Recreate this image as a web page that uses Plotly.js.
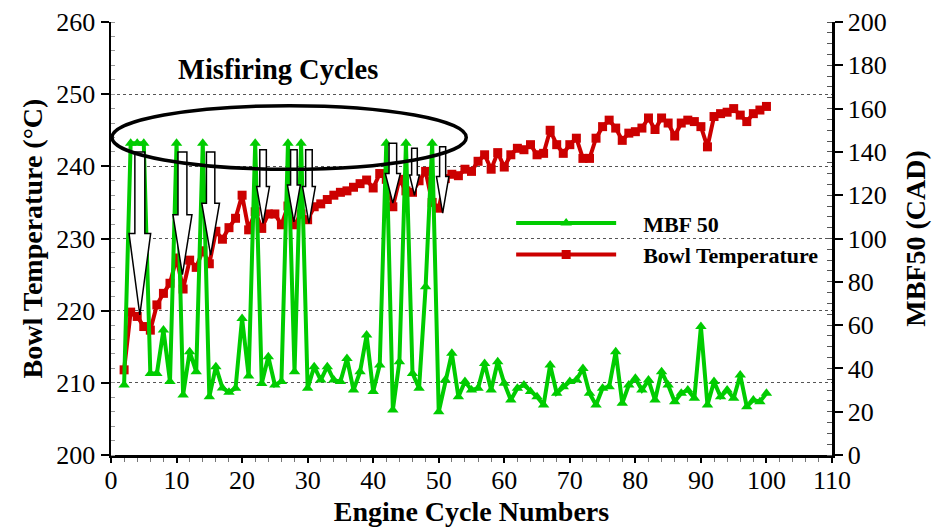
<!DOCTYPE html>
<html>
<head>
<meta charset="utf-8">
<script src="https://cdn.plot.ly/plotly-3.0.1.min.js"></script>
<style>html,body{margin:0;padding:0;background:#fff;}#chart{width:937px;height:529px;}</style>
</head>
<body>
<div id="chart"></div>
<script>
// Engine cycle numbers
const cycles = [2,3,4,5,6,7,8,9,10,11,12,13,14,15,16,17,18,19,20,21,22,23,24,25,26,27,28,29,30,31,32,33,34,35,36,37,38,39,40,41,42,43,44,45,46,47,48,49,50,51,52,53,54,55,56,57,58,59,60,61,62,63,64,65,66,67,68,69,70,71,72,73,74,75,76,77,78,79,80,81,82,83,84,85,86,87,88,89,90,91,92,93,94,95,96,97,98,99,100];
// Bowl temperature (°C), left axis
const bowlTemp = [211.8,219.8,219.2,217.8,217.3,220.8,222.4,223.8,227.3,223.0,227.0,226.0,228.3,226.5,231.0,229.9,231.5,232.8,236.0,231.2,233.7,231.4,233.4,233.4,231.9,234.5,231.9,233.4,232.6,234.4,234.8,235.4,236.0,236.4,236.6,237.1,237.6,238.1,237.0,239.0,238.2,234.4,238.2,236.6,236.4,238.0,239.3,235.0,234.2,238.3,238.9,238.7,239.6,239.3,240.7,241.6,239.6,241.9,239.9,241.6,242.5,242.3,243.0,241.6,241.8,245.0,243.0,241.8,243.0,243.9,241.1,241.1,243.9,245.5,246.4,245.3,243.6,244.6,244.8,245.3,246.7,245.1,246.7,246.0,244.2,246.0,246.4,246.2,245.5,242.7,246.9,247.3,247.5,248.0,247.1,246.2,247.3,247.8,248.3];
// MBF 50 (CAD), right axis
const mbf50 = [32.3,144,144,144,37.7,37.7,57.7,33.9,144,27.7,47.7,38.5,144,26.9,40.8,31.0,29.0,30.8,63.1,36.5,144,33.0,45.4,32.3,33.9,144,38.5,144,30.8,40.8,34.6,40.8,34.6,33.9,44.6,30.0,38.5,55.4,29.3,41.6,144,20.8,43.1,144,37.7,30.8,77.7,144,20.0,34.6,47.0,26.9,33.9,30.0,30.8,42.3,30.0,43.1,33.1,25.4,30.8,32.3,29.3,26.9,23.1,41.6,28.5,31.5,33.9,34.6,40.0,28.5,23.1,30.8,31.5,47.7,23.9,32.3,35.4,30.0,34.6,25.4,38.5,32.3,24.6,28.5,30.0,26.2,59.3,23.1,33.9,26.9,30.0,26.2,36.9,22.3,25.4,24.6,28.5];
const seriesNames = ["MBF 50", "Bowl Temperature"];
const xTicks = [0,10,20,30,40,50,60,70,80,90,100,110];
const leftTicks = [200,210,220,230,240,250,260];
const rightTicks = [0,20,40,60,80,100,120,140,160,180,200];
// Misfire arrows: [cycle, top, headBase, tip, shaftHalf, headHalf]
const arrows = [
  [4.4,242.0,230.7,219.4,0.76,1.65],
  [10.9,242.0,233.3,225.0,0.68,1.45],
  [15.2,242.0,234.9,227.7,0.64,1.35],
  [23.2,242.3,237.2,232.1,0.50,0.98],
  [27.9,242.3,237.4,232.3,0.50,0.98],
  [30.2,242.3,237.2,232.1,0.50,0.98],
  [43.0,243.2,239.0,234.9,0.58,1.15],
  [46.3,242.5,238.8,236.0,0.43,0.75],
  [50.6,242.7,238.6,233.5,0.46,0.95]
];

const FONT = 'Liberation Serif, Times New Roman, serif';
const GREEN = '#00cc00', RED = '#cc0000';
const PAD = '\u00a0\u00a0\u00a0\u00a0';

const traces = [
  {x: cycles, y: bowlTemp, name: PAD + seriesNames[1], type: 'scatter', mode: 'lines+markers',
   line: {color: RED, width: 4}, marker: {symbol: 'square', size: 9, color: RED},
   yaxis: 'y', legendrank: 2},
  {x: cycles, y: mbf50, name: PAD + seriesNames[0], type: 'scatter', mode: 'lines+markers',
   line: {color: GREEN, width: 4}, marker: {symbol: 'triangle-up', size: 10, color: GREEN},
   yaxis: 'y2', legendrank: 1}
];

const shapes = arrows.map(a => {
  const [xc, yt, yh, ytip, sw, hw] = a;
  return {type: 'path', xref: 'x', yref: 'y', layer: 'above',
    path: `M${xc-sw},${yt} L${xc+sw},${yt} L${xc+sw},${yh} L${xc+hw},${yh} L${xc},${ytip} L${xc-hw},${yh} L${xc-sw},${yh} Z`,
    fillcolor: 'white', line: {color: 'black', width: 1.5}};
});
shapes.push({type: 'circle', xref: 'x', yref: 'y', layer: 'above',
  x0: 0.15, x1: 54.2, y0: 239.6, y1: 248.4, line: {color: 'black', width: 3.5}});

const layout = {
  width: 937, height: 529,
  margin: {l: 111, r: 105, t: 22, b: 74},
  paper_bgcolor: '#fff', plot_bgcolor: '#fff',
  font: {family: FONT, color: '#000', size: 26},
  showlegend: true,
  legend: {x: 0.555, y: 0.584, xanchor: 'left', yanchor: 'top', bgcolor: 'rgba(0,0,0,0)',
    font: {family: FONT, size: 22, weight: 'bold', color: '#000'}, itemwidth: 100, tracegroupgap: 0},
  xaxis: {range: [0, 110], tickvals: xTicks, ticktext: xTicks.map(String),
    showline: true, linecolor: '#000', linewidth: 2.5, ticks: 'outside', ticklen: 5, tickwidth: 2, tickcolor: '#000',
    ticklabelstandoff: -5,
    showgrid: false, zeroline: false,
    minor: {dtick: 2, ticks: 'outside', ticklen: 4, tickcolor: '#777', tickwidth: 1},
    tickfont: {family: FONT, size: 26},
    title: {text: 'Engine Cycle Numbers', font: {family: FONT, size: 28, weight: 'bold'}, standoff: 8}},
  yaxis: {range: [200, 260], tickvals: leftTicks, ticktext: leftTicks.map(String),
    showline: true, linecolor: '#000', linewidth: 2.5, ticks: 'outside', ticklen: 8, tickwidth: 2, tickcolor: '#000',
    showgrid: true, gridcolor: '#555', griddash: 'dot', gridwidth: 1, zeroline: false,
    minor: {dtick: 2, ticks: 'inside', ticklen: 4, tickcolor: '#999', tickwidth: 1, showgrid: false},
    tickfont: {family: FONT, size: 26},
    title: {text: 'Bowl Temperature (°C)', font: {family: FONT, size: 28, weight: 'bold'}, standoff: 6}},
  yaxis2: {range: [0, 200], overlaying: 'y', side: 'right', tickvals: rightTicks, ticktext: rightTicks.map(String),
    showline: true, linecolor: '#000', linewidth: 2.5, ticks: 'outside', ticklen: 8, tickwidth: 2, tickcolor: '#000',
    showgrid: false, zeroline: false,
    minor: {dtick: 5, ticks: 'inside', ticklen: 5, tickcolor: '#555', tickwidth: 1},
    tickfont: {family: FONT, size: 26},
    title: {text: 'MBF50 (CAD)', font: {family: FONT, size: 28, weight: 'bold'}, standoff: 20}},
  shapes: shapes,
  annotations: [{text: 'Misfiring Cycles', xref: 'paper', yref: 'paper', x: 0.2316, y: 0.89,
    xanchor: 'center', yanchor: 'middle',
    showarrow: false, font: {family: FONT, size: 28.5, weight: 'bold', color: '#000'}}]
};

Plotly.newPlot('chart', traces, layout, {displayModeBar: false, staticPlot: true});
</script>
</body>
</html>
